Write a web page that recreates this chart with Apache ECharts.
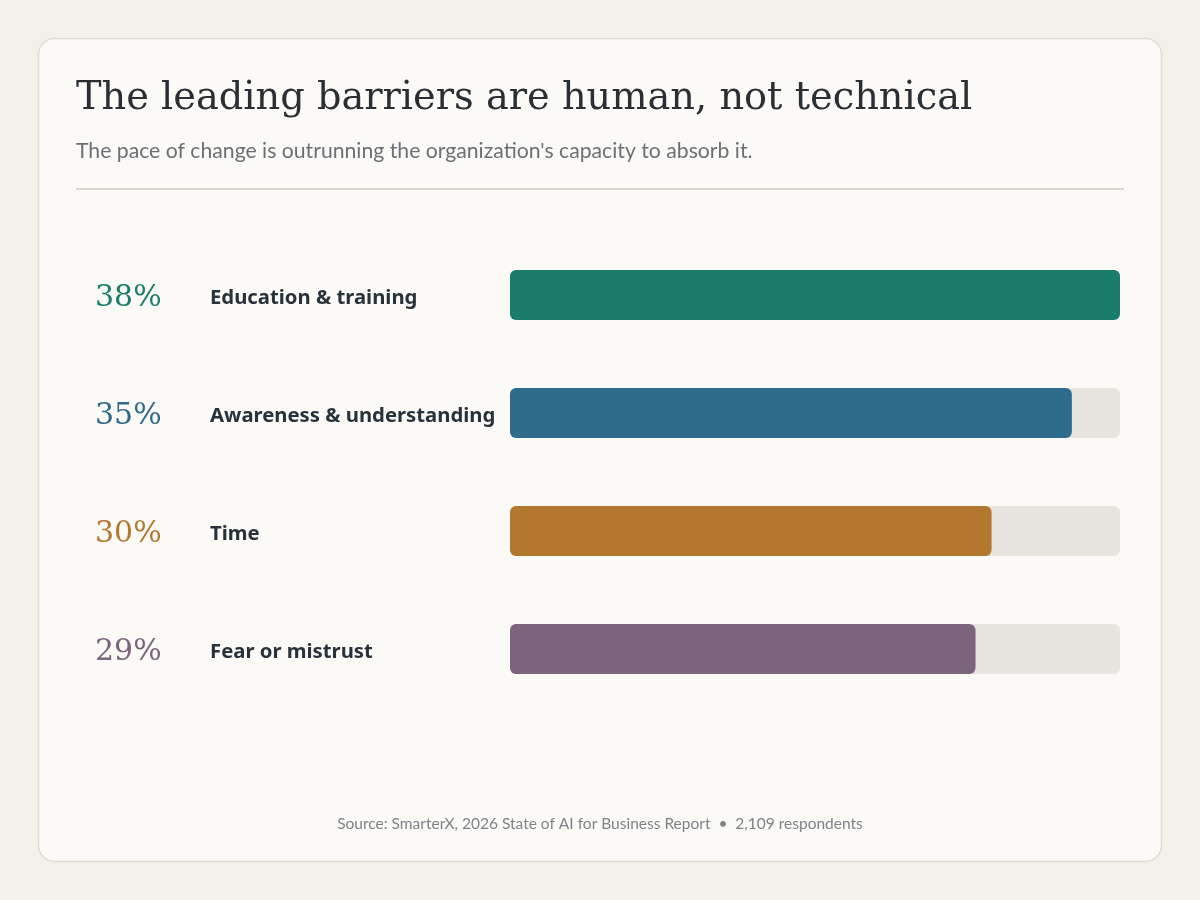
<!DOCTYPE html>
<html>
<head>
<meta charset="utf-8">
<script src="https://cdn.jsdelivr.net/npm/echarts@6/dist/echarts.min.js"></script>
<style>
  html, body { margin: 0; padding: 0; background: #f4f1ea; }
  #chart { width: 1200px; height: 900px; }
</style>
</head>
<body>
<div id="chart"></div>
<script>
// data
let categories = ['Education & training', 'Awareness & understanding', 'Time', 'Fear or mistrust'];
let shares = [38, 35, 30, 29];
let barColors = ['#1a7d6a', '#2f6b8b', '#b3782d', '#7b647c'];

let myChart = echarts.init(document.getElementById('chart'));

let sans = 'Lato, "Noto Sans", sans-serif';
let serif = '"DejaVu Serif", serif';

// rich styles for the percent on the left, one per row colour
let rich = {
    name: {fontFamily: '"Noto Sans", sans-serif', fontSize: 20.3, fontWeight: 'bold', color: '#27323b'}
};
barColors.forEach(function (c, i) {
    rich['p' + i] = {fontFamily: serif, fontSize: 30, color: c, width: 115};
});

let option = {
    backgroundColor: '#f4f1ea',
    graphic: [
        {
            type: 'rect', z: -10,
            shape: {x: 38.5, y: 38.5, width: 1123, height: 823, r: 16},
            style: {fill: '#fbfaf7', stroke: '#e0dcd1', lineWidth: 1.5}
        },
        {
            type: 'line',
            shape: {x1: 76, y1: 189, x2: 1124, y2: 189},
            style: {stroke: '#dcd8cb', lineWidth: 2}
        },
        {
            type: 'text', left: 'center', top: 816,
            style: {
                text: 'Source: SmarterX, 2026 State of AI for Business Report  \u2022  2,109 respondents',
                fontFamily: sans, fontSize: 15.5, fill: '#7f8388'
            }
        }
    ],
    title: [
        {
            text: 'The leading barriers are human, not technical',
            left: 71, top: 75,
            textStyle: {fontFamily: serif, fontSize: 38.3, fontWeight: 'normal', color: '#2a2f33'}
        },
        {
            text: "The pace of change is outrunning the organization's capacity to absorb it.",
            left: 71, top: 136,
            textStyle: {fontFamily: sans, fontSize: 21.2, fontWeight: 'normal', color: '#6b7075'}
        }
    ],
    grid: {left: 510, right: 80, top: 236, bottom: 192},
    xAxis: {
        type: 'value', min: 0, max: 38,
        show: false
    },
    yAxis: {
        type: 'category',
        inverse: true,
        data: categories,
        axisLine: {show: false},
        axisTick: {show: false},
        axisLabel: {
            align: 'left',
            margin: 415,
            padding: [6, 0, 0, 0],
            formatter: function (value, idx) {
                return '{p' + idx + '|' + shares[idx] + '%}{name|' + value + '}';
            },
            rich: rich
        }
    },
    series: [
        {
            type: 'bar',
            barWidth: 50,
            data: shares.map(function (v, i) {
                return {value: v, itemStyle: {color: barColors[i]}};
            }),
            itemStyle: {borderRadius: 6},
            showBackground: true,
            backgroundStyle: {color: '#e8e5df', borderRadius: 6},
            silent: true
        }
    ]
};

myChart.setOption(option);
</script>
</body>
</html>
